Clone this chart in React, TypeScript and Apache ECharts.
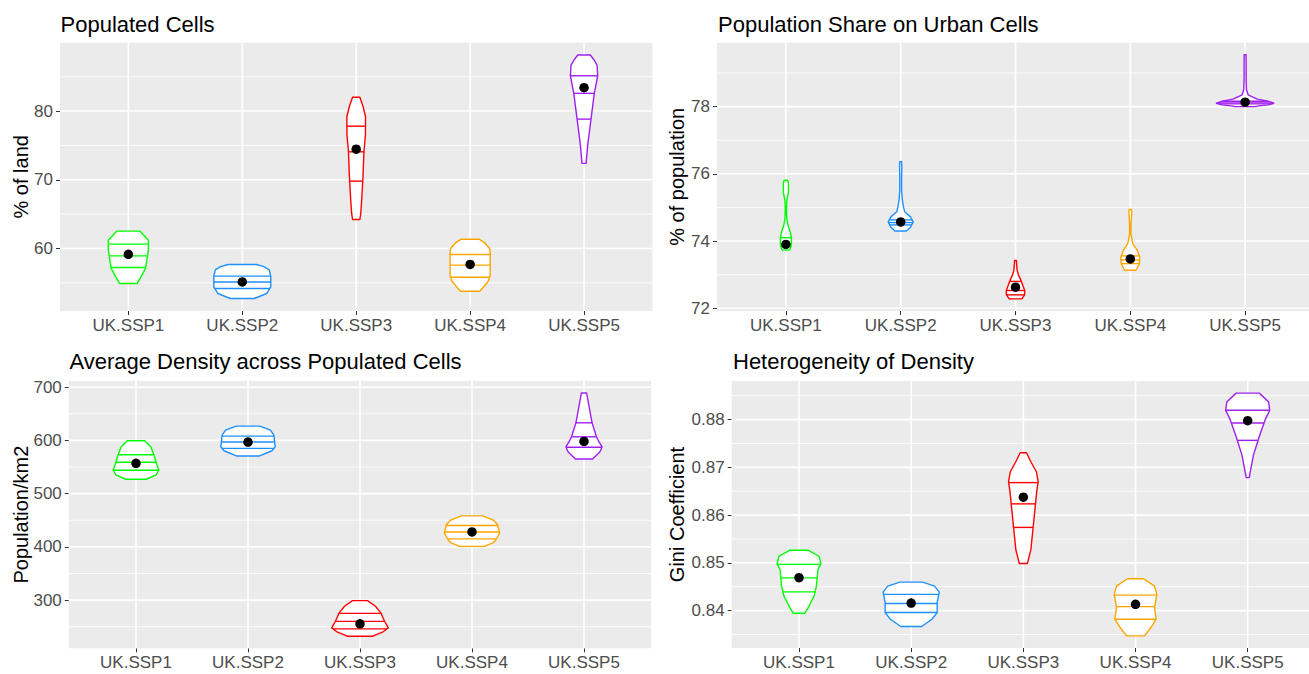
import React, { useEffect, useRef } from "react";
import * as echarts from "echarts";

// ---------- shared ----------
const categories = ["UK.SSP1", "UK.SSP2", "UK.SSP3", "UK.SSP4", "UK.SSP5"];
const violinColors = ["#00FF00", "#1E90FF", "#FF0000", "#FFA500", "#A020F0"];
const panelTitles = [
  "Populated Cells",
  "Population Share on Urban Cells",
  "Average Density across Populated Cells",
  "Heterogeneity of Density",
];
const axisTitles = ["% of land", "% of population", "Population/km2", "Gini Coefficient"];

// Violin outlines: [value, half width in category units], top to bottom
// ---------- Panel 1: Populated Cells ----------
const landViolins = [
  [[62.52, 0.103], [61.2, 0.176], [59.75, 0.176], [57.1, 0.151], [55.9, 0.112], [54.9, 0.076]],
  [[57.67, 0.124], [57.35, 0.19], [56.9, 0.237], [55.9, 0.25], [54.4, 0.25], [53.45, 0.215], [52.72, 0.105]],
  [[82.0, 0.032], [80.63, 0.061], [79.17, 0.082], [76.5, 0.081], [74.07, 0.068], [70.2, 0.059], [66.79, 0.047], [65.1, 0.04], [64.22, 0.032]],
  [[61.35, 0.079], [60.77, 0.131], [60.0, 0.171], [59.5, 0.176], [56.1, 0.176], [55.2, 0.158], [53.78, 0.085]],
  [[88.16, 0.055], [87.43, 0.088], [86.7, 0.114], [85.14, 0.12], [82.58, 0.09], [78.83, 0.061], [75.05, 0.032], [72.38, 0.018]],
];
const landQuartiles = [[57.23, 58.92, 60.63], [54.17, 55.13, 55.97], [69.8, 74.07, 77.8], [55.82, 57.57, 59.13], [78.83, 82.58, 85.14]];
const landMeans = [59.15, 55.13, 74.46, 57.67, 83.4];
const landTicks = [60, 70, 80];
const landMinor = [55, 65, 75, 85];
const landRange = [50.9, 89.95];

// ---------- Panel 2: Population Share on Urban Cells ----------
const urbanViolins = [
  [[75.81, 0.015], [75.72, 0.022], [75.45, 0.022], [75.2, 0.008], [74.95, 0.005], [74.65, 0.008], [74.45, 0.02], [74.3, 0.035], [74.1, 0.048], [73.9, 0.048], [73.78, 0.04], [73.73, 0.028]],
  [[76.36, 0.008], [76.2, 0.01], [75.9, 0.008], [75.5, 0.008], [75.2, 0.015], [75.0, 0.025], [74.87, 0.035], [74.72, 0.085], [74.57, 0.109], [74.42, 0.087], [74.33, 0.06], [74.3, 0.05]],
  [[73.42, 0.008], [73.3, 0.01], [73.12, 0.015], [72.98, 0.027], [72.83, 0.048], [72.68, 0.064], [72.53, 0.08], [72.41, 0.08], [72.33, 0.065], [72.28, 0.055]],
  [[74.94, 0.01], [74.85, 0.013], [74.7, 0.01], [74.5, 0.006], [74.2, 0.006], [73.92, 0.023], [73.72, 0.061], [73.52, 0.083], [73.32, 0.078], [73.2, 0.06], [73.13, 0.05]],
  [[79.54, 0.008], [79.2, 0.009], [78.8, 0.009], [78.5, 0.012], [78.35, 0.026], [78.22, 0.105], [78.15, 0.21], [78.1, 0.25], [78.05, 0.2], [78.02, 0.12], [78.0, 0.085]],
];
const urbanQuartiles = [[73.84, 73.92, 74.1], [74.48, 74.55, 74.63], [72.4, 72.53, 72.8], [73.33, 73.44, 73.56], [78.08, 78.11, 78.16]];
const urbanMeans = [73.9, 74.57, 72.63, 73.47, 78.13];
const urbanTicks = [72, 74, 76, 78];
const urbanMinor = [73, 75, 77, 79];
const urbanRange = [71.92, 79.9];

// ---------- Panel 3: Average Density across Populated Cells ----------
const densityViolins = [
  [[599.3, 0.077], [588, 0.132], [572.5, 0.16], [553.7, 0.187], [544.4, 0.204], [535, 0.179], [527, 0.092]],
  [[626.8, 0.107], [619.3, 0.2], [610, 0.231], [588, 0.243], [580.5, 0.214], [570.6, 0.098]],
  [[299, 0.067], [288.4, 0.138], [276, 0.186], [260.3, 0.219], [248, 0.253], [239.7, 0.201], [232.2, 0.114]],
  [[458.2, 0.096], [450.7, 0.186], [441.4, 0.23], [425.8, 0.246], [413.3, 0.214], [408, 0.19], [401, 0.11]],
  [[689, 0.023], [633, 0.072], [606.7, 0.111], [597, 0.134], [588, 0.162], [578.7, 0.143], [565, 0.077]],
];
const densityQuartiles = [[544, 558.8, 573], [585, 596.8, 608], [246, 260, 275], [415, 427.8, 440], [587, 606.7, 633]];
const densityMeans = [557, 596.8, 255.4, 428, 598];
const densityTicks = [300, 400, 500, 600, 700];
const densityMinor = [250, 350, 450, 550, 650];
const densityRange = [209.5, 711.5];

// ---------- Panel 4: Heterogeneity of Density ----------
const giniViolins = [
  [[0.85263, 0.085], [0.85138, 0.178], [0.84985, 0.196], [0.8486, 0.169], [0.84512, 0.155], [0.84304, 0.134], [0.84096, 0.089], [0.83944, 0.051]],
  [[0.84596, 0.101], [0.84512, 0.209], [0.84388, 0.25], [0.84167, 0.232], [0.83958, 0.232], [0.8382, 0.185], [0.83667, 0.093]],
  [[0.87305, 0.028], [0.87117, 0.067], [0.86908, 0.116], [0.867, 0.132], [0.86492, 0.119], [0.8611, 0.103], [0.85694, 0.085], [0.85277, 0.067], [0.84985, 0.036]],
  [[0.84667, 0.071], [0.84512, 0.17], [0.8434, 0.19], [0.84063, 0.169], [0.8382, 0.184], [0.83646, 0.137], [0.83471, 0.08]],
  [[0.88554, 0.103], [0.88367, 0.187], [0.88194, 0.196], [0.88021, 0.16], [0.87673, 0.107], [0.87256, 0.051], [0.86784, 0.013]],
];
const giniQuartiles = [[0.84392, 0.84685, 0.84968], [0.8396, 0.8415, 0.8434], [0.85742, 0.86235, 0.8668], [0.8382, 0.84083, 0.84325], [0.87565, 0.8793, 0.88194]];
const giniMeans = [0.8469, 0.84159, 0.86375, 0.84131, 0.87978];
const giniTicks = [0.84, 0.85, 0.86, 0.87, 0.88];
const giniMinor = [0.835, 0.845, 0.855, 0.865, 0.875, 0.885];
const giniRange = [0.83217, 0.88808];

const FONT = '"Liberation Sans", Arial, Helvetica, sans-serif';

function halfWidthAt(profile: number[][], q: number): number {
  for (let k = 0; k < profile.length - 1; k++) {
    const [v0, w0] = profile[k];
    const [v1, w1] = profile[k + 1];
    if (q <= v0 && q >= v1) {
      const t = v0 === v1 ? 0 : (v0 - q) / (v0 - v1);
      return w0 + (w1 - w0) * t;
    }
  }
  return 0;
}

function buildOption() {
  const panels = [
    { rect: { left: 60, top: 42.7, width: 592.4, height: 268.3 }, range: landRange, ticks: landTicks, minor: landMinor, violins: landViolins, quart: landQuartiles, means: landMeans, fmt: (v: number) => String(v), titlePos: [60.5, 24], axisPos: [20.6, 176.8] },
    { rect: { left: 717, top: 42.7, width: 597, height: 268.3 }, range: urbanRange, ticks: urbanTicks, minor: urbanMinor, violins: urbanViolins, quart: urbanQuartiles, means: urbanMeans, fmt: (v: number) => String(v), titlePos: [718, 24], axisPos: [677, 176.8] },
    { rect: { left: 68.8, top: 381, width: 582.4, height: 267.3 }, range: densityRange, ticks: densityTicks, minor: densityMinor, violins: densityViolins, quart: densityQuartiles, means: densityMeans, fmt: (v: number) => String(v), titlePos: [69.4, 361], axisPos: [20.6, 514.6] },
    { rect: { left: 731.7, top: 381, width: 583.3, height: 267 }, range: giniRange, ticks: giniTicks, minor: giniMinor, violins: giniViolins, quart: giniQuartiles, means: giniMeans, fmt: (v: number) => v.toFixed(2), titlePos: [733, 361], axisPos: [677, 514.5] },
  ];

  const grid: any[] = [];
  const xAxis: any[] = [];
  const yAxis: any[] = [];
  const series: any[] = [];
  const graphic: any[] = [];
  const catValues = categories.map((_, i) => i + 1);

  panels.forEach((p, gi) => {
    grid.push({
      ...p.rect,
      show: true,
      backgroundColor: "#EBEBEB",
      borderWidth: 0,
      containLabel: false,
      outerBoundsMode: "none",
    });
    xAxis.push({
      type: "value",
      gridIndex: gi,
      min: 0.4,
      max: 5.6,
      splitLine: { show: false },
      axisLine: { show: false },
      axisTick: { show: true, customValues: catValues, length: 4, lineStyle: { color: "#333333", width: 1 } },
      axisLabel: {
        show: true,
        customValues: catValues,
        formatter: (v: number) => categories[Math.round(v) - 1] ?? "",
        color: "#4D4D4D",
        fontSize: 17,
        fontFamily: FONT,
        margin: 6,
      },
    });
    yAxis.push({
      type: "value",
      gridIndex: gi,
      min: p.range[0],
      max: p.range[1],
      splitLine: { show: false },
      axisLine: { show: false },
      axisTick: { show: true, customValues: p.ticks, length: 4, lineStyle: { color: "#333333", width: 1 } },
      axisLabel: {
        show: true,
        customValues: p.ticks,
        formatter: p.fmt,
        color: "#4D4D4D",
        fontSize: 17,
        fontFamily: FONT,
        margin: 7,
      },
    });

    // gridlines: [direction (0 horizontal, 1 vertical), value, major]
    const gridData: number[][] = [];
    p.minor.forEach((v) => gridData.push([0, v, 0]));
    p.ticks.forEach((v) => gridData.push([0, v, 1]));
    catValues.forEach((v) => gridData.push([1, v, 1]));
    const yMin = p.range[0];
    series.push({
      type: "custom",
      xAxisIndex: gi,
      yAxisIndex: gi,
      z: 1,
      silent: true,
      data: gridData,
      encode: { x: 2, y: 1 },
      renderItem: (params: any, api: any) => {
        const cs = params.coordSys;
        const dir = api.value(0);
        const v = api.value(1);
        const major = api.value(2);
        if (dir === 0) {
          const y = api.coord([1, v])[1];
          return {
            type: "line",
            shape: { x1: cs.x, y1: y, x2: cs.x + cs.width, y2: y },
            style: { stroke: "#FFFFFF", lineWidth: major ? 1.6 : 0.8 },
          };
        }
        const x = api.coord([v, yMin])[0];
        return {
          type: "line",
          shape: { x1: x, y1: cs.y, x2: x, y2: cs.y + cs.height },
          style: { stroke: "#FFFFFF", lineWidth: 1.6 },
        };
      },
    });

    // violins
    const profiles = p.violins;
    const quarts = p.quart;
    series.push({
      type: "custom",
      xAxisIndex: gi,
      yAxisIndex: gi,
      z: 3,
      silent: true,
      data: profiles.map((prof, i) => [i + 1, prof[0][0]]),
      renderItem: (params: any, api: any) => {
        const i = params.dataIndex;
        const c = i + 1;
        const prof = profiles[i];
        const color = violinColors[i];
        const pts: number[][] = [];
        prof.forEach(([v, w]) => pts.push(api.coord([c + w, v])));
        for (let k = prof.length - 1; k >= 0; k--) pts.push(api.coord([c - prof[k][1], prof[k][0]]));
        const children: any[] = [
          {
            type: "polygon",
            shape: { points: pts },
            style: { fill: "#FFFFFF", stroke: color, lineWidth: 1.4, lineJoin: "round" },
          },
        ];
        quarts[i].forEach((q) => {
          const w = halfWidthAt(prof, q);
          const a = api.coord([c - w, q]);
          const b = api.coord([c + w, q]);
          children.push({
            type: "line",
            shape: { x1: a[0], y1: a[1], x2: b[0], y2: b[1] },
            style: { stroke: color, lineWidth: 1.4 },
          });
        });
        return { type: "group", children };
      },
    });

    // means
    series.push({
      type: "scatter",
      xAxisIndex: gi,
      yAxisIndex: gi,
      z: 5,
      silent: true,
      symbol: "circle",
      symbolSize: 9.5,
      itemStyle: { color: "#000000", opacity: 1 },
      data: p.means.map((m, i) => [i + 1, m]),
    });

    graphic.push({
      type: "text",
      x: p.titlePos[0],
      y: p.titlePos[1],
      style: {
        text: panelTitles[gi],
        fontSize: 22,
        fontFamily: FONT,
        fill: "#000000",
        align: "left",
        verticalAlign: "middle",
      },
    });
    graphic.push({
      type: "text",
      x: p.axisPos[0],
      y: p.axisPos[1],
      rotation: Math.PI / 2,
      style: {
        text: axisTitles[gi],
        fontSize: 20,
        fontFamily: FONT,
        fill: "#000000",
        align: "center",
        verticalAlign: "middle",
      },
    });
  });

  return {
    animation: false,
    backgroundColor: "#FFFFFF",
    grid,
    xAxis,
    yAxis,
    series,
    graphic,
  };
}

export default function App() {
  const ref = useRef<HTMLDivElement>(null);
  useEffect(() => {
    if (!ref.current) return;
    const chart = echarts.init(ref.current, null, { renderer: "svg" });
    chart.setOption(buildOption() as any);
    return () => chart.dispose();
  }, []);
  return (
    <div
      ref={ref}
      style={{ position: "absolute", left: 0, top: 0, width: 1309, height: 674, background: "#FFFFFF" }}
    />
  );
}
